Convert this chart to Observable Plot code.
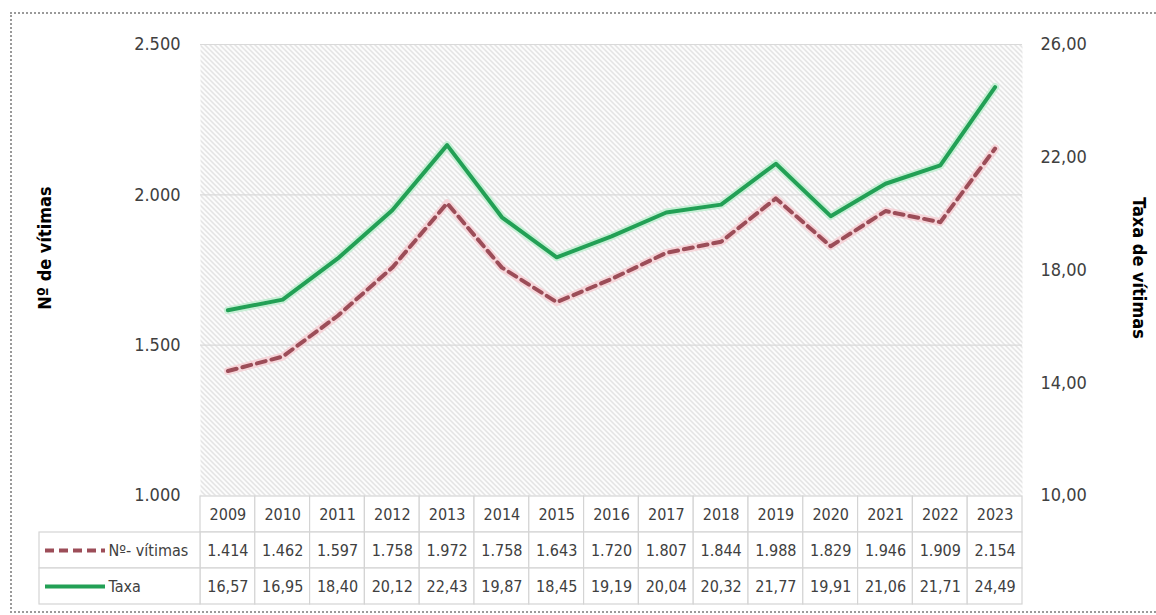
<!DOCTYPE html>
<html>
<head>
<meta charset="utf-8">
<script src="https://cdn.jsdelivr.net/npm/d3@7"></script>
<script src="https://cdn.jsdelivr.net/npm/@observablehq/plot@0.6"></script>
<style>
  body { margin: 0; background: #fff; width: 1156px; height: 615px; overflow: hidden; position: relative; }
  #border { position: absolute; left: 10px; top: 12px; width: 1170px; height: 601px; border: 2px dotted #9a9a9a; box-sizing: border-box; }
  #main { position: absolute; left: 0; top: 0; }
  #table { position: absolute; left: 0; top: 495px; }
</style>
</head>
<body>
<div id="border"></div>
<div id="main"></div>
<div id="table"></div>
<script>
const years = [2009, 2010, 2011, 2012, 2013, 2014, 2015, 2016, 2017, 2018, 2019, 2020, 2021, 2022, 2023];
const vitimas = [1414, 1462, 1597, 1758, 1972, 1758, 1643, 1720, 1807, 1844, 1988, 1829, 1946, 1909, 2154];
const taxa = [16.57, 16.95, 18.40, 20.12, 22.43, 19.87, 18.45, 19.19, 20.04, 20.32, 21.77, 19.91, 21.06, 21.71, 24.49];
const leftTicks = [1000, 1500, 2000, 2500];
const rightTicks = [10, 14, 18, 22, 26];
const seriesNames = ["Nº- vítimas", "Taxa"];
const leftTitle = "Nº de vítimas";
const rightTitle = "Taxa de vítimas";

const FONT = "'Liberation Sans Narrow', 'DejaVu Sans Condensed', Roboto, sans-serif";
const loc = d3.formatLocale({decimal: ",", thousands: ".", grouping: [3], currency: ["", ""]});
const fmtInt = loc.format(",d");
const fmt2 = loc.format(",.2f");

// map right-axis (taxa) values into the left-axis domain
const L0 = 1000, L1 = 2500, R0 = 10, R1 = 26;
const toLeft = t => L0 + (t - R0) * (L1 - L0) / (R1 - R0);
const fromLeft = v => R0 + (v - L0) * (R1 - R0) / (L1 - L0);

const rows = years.map((year, i) => ({year, vitimas: vitimas[i], taxa: taxa[i], taxaY: toLeft(taxa[i])}));

const GREEN = "#22a055";
const RED = "#9c4d58";

const main = Plot.plot({
  width: 1156,
  height: 615,
  marginTop: 44,
  marginBottom: 120,
  marginLeft: 200,
  marginRight: 134,
  style: {fontFamily: FONT, background: "transparent", color: "#404040"},
  x: {type: "linear", domain: [2008.5, 2023.5], axis: null},
  y: {domain: [L0, L1], axis: null},
  marks: [
    Plot.frame({fill: "#f0f0f0", stroke: "none"}),
    Plot.ruleY(leftTicks.slice(1), {stroke: "#d9d9d9", strokeWidth: 1.2}),
    Plot.axisY(leftTicks, {anchor: "left", tickSize: 0, tickPadding: 20, tickFormat: fmtInt, fontSize: 18, fill: "#404040", label: null}),
    Plot.axisY(rightTicks.map(toLeft), {anchor: "right", tickSize: 0, tickPadding: 18, tickFormat: v => fmt2(fromLeft(v)), fontSize: 18, fill: "#404040", label: null}),
    // glows
    Plot.line(rows, {x: "year", y: "taxaY", stroke: "#b5ecc9", strokeWidth: 8, strokeOpacity: 0.7}),
    Plot.line(rows, {x: "year", y: "vitimas", stroke: "#f6c9cf", strokeWidth: 8, strokeOpacity: 0.7}),
    // main lines
    Plot.line(rows, {x: "year", y: "taxaY", stroke: GREEN, strokeWidth: 4}),
    Plot.line(rows, {x: "year", y: "vitimas", stroke: RED, strokeWidth: 4, strokeDasharray: "9,6"}),
    Plot.text([leftTitle], {frameAnchor: "left", textAnchor: "middle", dx: -155, dy: -22, rotate: -90, fontWeight: "bold", fontSize: 18, fill: "#000"}),
    Plot.text([rightTitle], {frameAnchor: "right", textAnchor: "middle", dx: 116, dy: -2, rotate: 90, fontWeight: "bold", fontSize: 18, fill: "#000"})
  ]
});

// hatch pattern on the plot area
const ns = "http://www.w3.org/2000/svg";
const defs = document.createElementNS(ns, "defs");
defs.innerHTML = `<pattern id="hatch" patternUnits="userSpaceOnUse" width="5" height="5">
  <rect width="5" height="5" fill="#ffffff"/>
  <path d="M0,0 L5,5 M-1,4 L1,6 M4,-1 L6,1" stroke="#d4d4d4" stroke-width="1.1"/>
</pattern>`;
main.insertBefore(defs, main.firstChild);
let fr = main.querySelector('[aria-label="frame"]');
if (fr && fr.tagName.toLowerCase() !== "rect") fr = fr.querySelector("rect");
if (fr) fr.setAttribute("fill", "url(#hatch)");
document.getElementById("main").appendChild(main);

// data table
const rowKeys = ["h", "n", "t"];
const cells = years.flatMap((year, i) => [
  {year, row: "h", text: String(year)},
  {year, row: "n", text: fmtInt(vitimas[i])},
  {year, row: "t", text: fmt2(taxa[i])}
]);
const legendRows = [
  {row: "n", name: seriesNames[0]},
  {row: "t", name: seriesNames[1]}
];
const LEG = 2007.5, FIRST = 2008.5, LAST = 2023.5;

const table = Plot.plot({
  width: 1156,
  height: 114,
  marginTop: 0, marginBottom: 0, marginLeft: 0, marginRight: 0,
  style: {fontFamily: FONT, background: "transparent", color: "#404040", overflow: "visible"},
  x: {type: "linear", domain: [LEG, FIRST, LAST], range: [39, 200, 1022], axis: null},
  y: {type: "band", domain: rowKeys, range: [0, 110], padding: 0, axis: null},
  marks: [
    Plot.barX(cells, {x1: d => d.year - 0.5, x2: d => d.year + 0.5, y: "row", fill: "#fff", stroke: "#d4d4d4", strokeWidth: 1.2}),
    Plot.barX(legendRows, {x1: LEG, x2: FIRST, y: "row", fill: "#fff", stroke: "#d4d4d4", strokeWidth: 1.2}),
    Plot.text(cells, {x: "year", y: "row", text: "text", fontSize: 16, fill: "#404040"}),
    Plot.ruleY([legendRows[0]], {y: "row", x1: LEG, x2: FIRST, insetLeft: 6, insetRight: 95, stroke: RED, strokeWidth: 4, strokeDasharray: "9,5"}),
    Plot.ruleY([legendRows[1]], {y: "row", x1: LEG, x2: FIRST, insetLeft: 6, insetRight: 95, stroke: GREEN, strokeWidth: 4}),
    Plot.text(legendRows, {x: LEG, y: "row", text: "name", textAnchor: "start", dx: 69, fontSize: 16, fill: "#404040"})
  ]
});
document.getElementById("table").appendChild(table);
</script>
</body>
</html>
